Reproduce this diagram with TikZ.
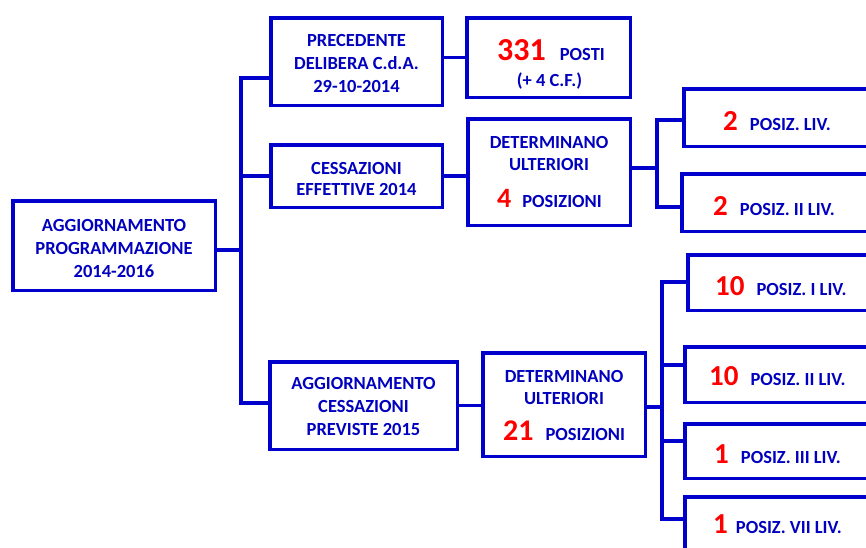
\documentclass[tikz,border=0pt]{standalone}
\usepackage{fontspec}
\setmainfont{Carlito}
\definecolor{bl}{RGB}{0,0,204}
\definecolor{tb}{RGB}{0,0,190}
\definecolor{rd}{RGB}{255,0,0}
\newcommand\bignum[2]{{\color{rd}\fontsize{#1}{#1}\selectfont #2}}
\begin{document}
\begin{tikzpicture}[x=1pt,y=-1pt,
  box/.style={draw=bl, line width=3.5pt, inner sep=0pt},
  lbl/.style={text=tb, font=\fontsize{18.5}{22}\selectfont\bfseries, inner sep=0pt, anchor=base},
  mix/.style={text=tb, font=\fontsize{18.5}{22}\selectfont\bfseries, inner sep=0pt, anchor=base west},
  conn/.style={draw=bl, line width=3.5pt, line join=miter}
]
\clip (0,0) rectangle (866,547);
% boxes
\node[box, minimum width=202.5pt, minimum height=89.5pt] (main) at (114,245.5) {};
\node[box, minimum width=171.5pt, minimum height=87.5pt] (prec) at (356.5,61.5) {};
\node[box, minimum width=163.5pt, minimum height=79.5pt] (posti) at (548.5,57.5) {};
\node[box, minimum width=171.5pt, minimum height=62.5pt] (cess) at (356.5,176) {};
\node[box, minimum width=162.5pt, minimum height=106.5pt] (det4) at (549,172) {};
\node[box, minimum width=187.5pt, minimum height=87.5pt] (aggc) at (363.5,405.5) {};
\node[box, minimum width=162.5pt, minimum height=103.5pt] (det21) at (564,404.5) {};
\node[box, minimum width=220pt, minimum height=57.5pt] (r1) at (793.75,117.5) {};
\node[box, minimum width=220pt, minimum height=57.5pt] (r2) at (791.75,202.5) {};
\node[box, minimum width=220pt, minimum height=55.5pt] (r3) at (797.75,282.5) {};
\node[box, minimum width=220pt, minimum height=55.5pt] (r4) at (794.75,374.5) {};
\node[box, minimum width=220pt, minimum height=54.5pt] (r5) at (794.75,451) {};
\node[box, minimum width=220pt, minimum height=85pt] (r6) at (794.75,539.5) {};
% texts
\node[lbl] (mainA) at (114,231) {AGGIORNAMENTO};
\node[lbl] (mainB) at (114,254) {PROGRAMMAZIONE};
\node[lbl] (mainC) at (114,277) {2014-2016};
\node[lbl] (precA) at (356.5,46) {PRECEDENTE};
\node[lbl] (precB) at (356.5,69) {DELIBERA C.d.A.};
\node[lbl] (precC) at (356.5,92) {29-10-2014};
\node[mix] (postiA) at (497,60) {\bignum{32}{331}\hspace{14pt}POSTI};
\node[lbl] (postiB) at (549.5,86) {(+ 4 C.F.)};
\node[lbl] (cessA) at (356.5,174) {CESSAZIONI};
\node[lbl] (cessB) at (356.5,195) {EFFETTIVE 2014};
\node[lbl] (det4A) at (549,148) {DETERMINANO};
\node[lbl] (det4B) at (549,170) {ULTERIORI};
\node[mix] (det4C) at (497,207) {\bignum{28}{4}\hspace{11pt}POSIZIONI};
\node[lbl] (aggcA) at (363.5,389) {AGGIORNAMENTO};
\node[lbl] (aggcB) at (363.5,412) {CESSAZIONI};
\node[lbl] (aggcC) at (363.5,435) {PREVISTE 2015};
\node[lbl] (det21A) at (564,382) {DETERMINANO};
\node[lbl] (det21B) at (564,404) {ULTERIORI};
\node[mix] (det21C) at (503,440) {\bignum{30}{21}\hspace{12pt}POSIZIONI};
\node[mix] (r1T) at (723,130) {\bignum{29}{2}\hspace{12pt}POSIZ. LIV.};
\node[mix] (r2T) at (713,215) {\bignum{29}{2}\hspace{12pt}POSIZ. II LIV.};
\node[mix] (r3T) at (715,295) {\bignum{29}{10}\hspace{12pt}POSIZ. I LIV.};
\node[mix] (r4T) at (709,385) {\bignum{29}{10}\hspace{12pt}POSIZ. II LIV.};
\node[mix] (r5T) at (714,463) {\bignum{29}{1}\hspace{12pt}POSIZ. III LIV.};
\node[mix] (r6T) at (713,533) {\bignum{29}{1}\hspace{8pt}POSIZ. VII LIV.};
% connectors
\coordinate (t1) at (241,78);
\coordinate (t2) at (241,250);
\coordinate (t3) at (241,403);
\draw[conn] (main.east |- t2) -- (t2);
\draw[conn] (prec.west |- t1) -- (t1) -- (t3) -- (aggc.west |- t3);
\draw[conn] (cess.west) -- (cess.west -| t1);
\draw[conn] (prec.east |- posti.west) -- (posti.west);
\draw[conn] (cess.east) -- (cess.east -| det4.west);
\coordinate (b1) at (657,120);
\coordinate (b2) at (657,207);
\coordinate (bm) at (657,168);
\draw[conn] (det4.east |- bm) -- (bm);
\draw[conn] (r1.west |- b1) -- (b1) -- (b2) -- (r2.west |- b2);
\draw[conn] (aggc.east) -- (aggc.east -| det21.west);
\coordinate (c1) at (662,282);
\coordinate (c2) at (662,365);
\coordinate (c3) at (662,441);
\coordinate (c4) at (662,519);
\coordinate (cm) at (662,407);
\draw[conn] (det21.east |- cm) -- (cm);
\draw[conn] (r3.west |- c1) -- (c1) -- (c4) -- (r6.west |- c4);
\draw[conn] (c2) -- (r4.west |- c2);
\draw[conn] (c3) -- (r5.west |- c3);
\end{tikzpicture}
\end{document}
